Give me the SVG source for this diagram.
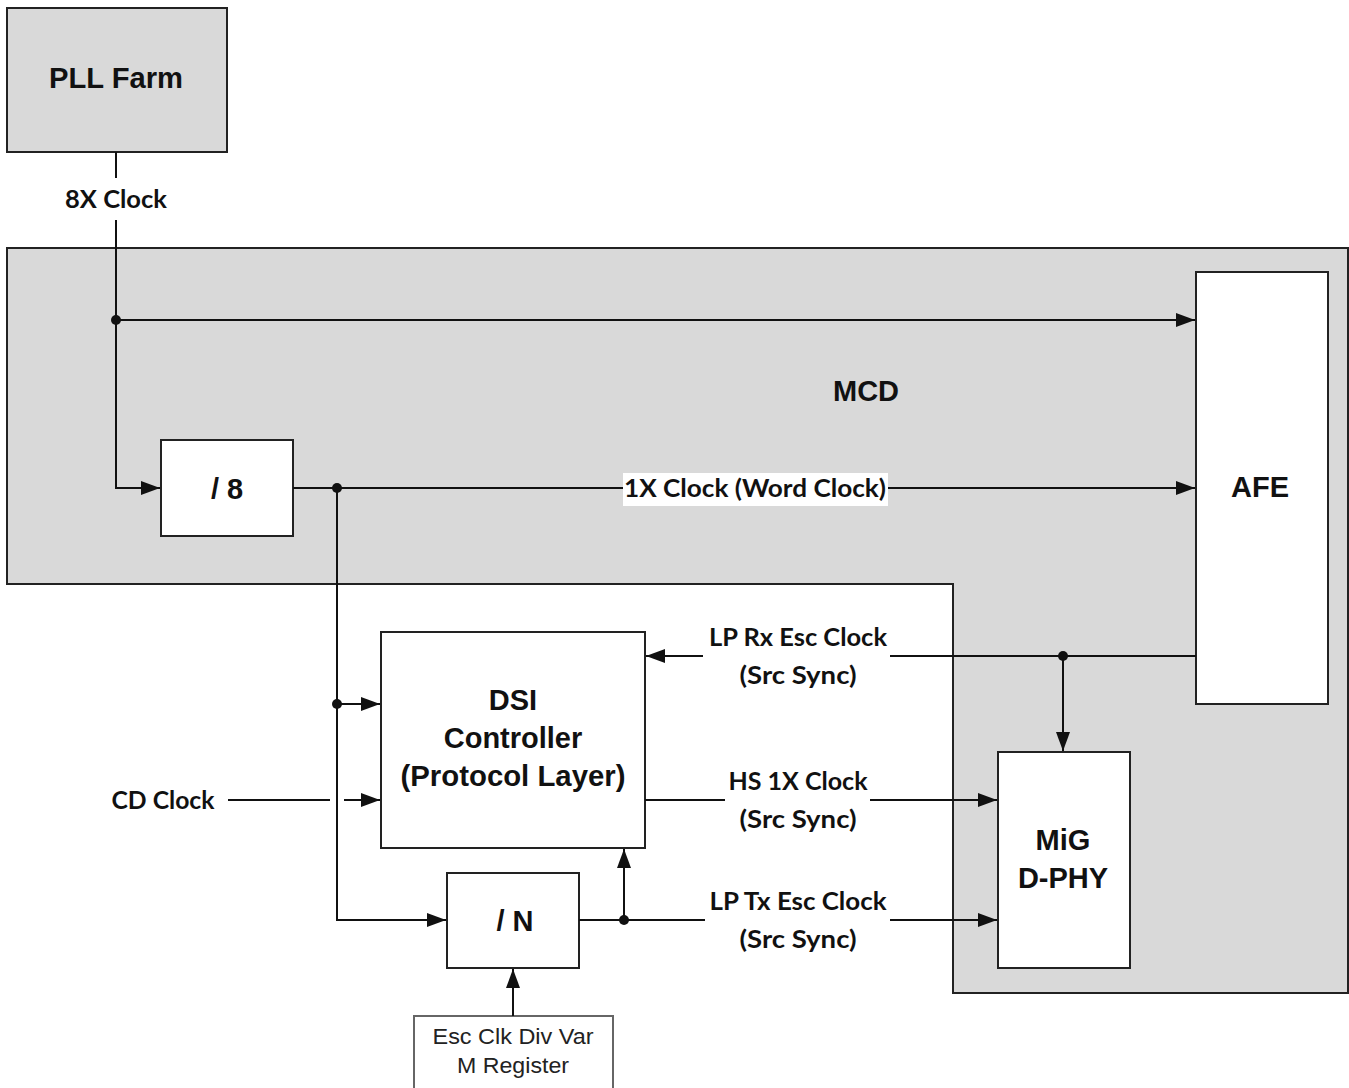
<svg xmlns="http://www.w3.org/2000/svg" width="1349" height="1088" viewBox="0 0 1349 1088">
<defs>
<style>
.box{fill:#fff;stroke:#222;stroke-width:2}
.gbox{fill:#d9d9d9;stroke:#222;stroke-width:2}
.ln{fill:none;stroke:#111;stroke-width:2}
.t{font-family:"Liberation Sans",Arial,sans-serif;font-weight:bold;font-size:29px;fill:#111;text-anchor:middle}
.l{font-family:Lato,"Open Sans",sans-serif;font-weight:bold;font-size:24px;fill:#111;text-anchor:middle}
.r{font-family:"Liberation Sans",Arial,sans-serif;font-size:22px;fill:#222;text-anchor:middle}
</style>
<marker id="a" viewBox="0 0 19 14" refX="19" refY="7" markerWidth="19" markerHeight="14" markerUnits="userSpaceOnUse" orient="auto"><path d="M0,0 L19,7 L0,14 z" fill="#111"/></marker>
</defs>
<rect width="1349" height="1088" fill="#fff"/>
<g id="mcd">
<path class="gbox" d="M7,248 H1348 V993 H953 V584 H7 Z"/>
<text class="t" x="866" y="401">MCD</text>
</g>
<g id="pll">
<rect class="gbox" x="7" y="8" width="220" height="144"/>
<text class="t" x="116" y="88" textLength="134" lengthAdjust="spacingAndGlyphs">PLL Farm</text>
</g>
<g id="div8">
<rect class="box" x="161" y="440" width="132" height="96"/>
<text class="t" x="227" y="499">/ 8</text>
</g>
<g id="afe">
<rect class="box" x="1196" y="272" width="132" height="432"/>
<text class="t" x="1260" y="497">AFE</text>
</g>
<g id="dsi">
<rect class="box" x="381" y="632" width="264" height="216"/>
<text class="t" x="513" y="710">DSI</text>
<text class="t" x="513" y="748">Controller</text>
<text class="t" x="513" y="786" textLength="225" lengthAdjust="spacingAndGlyphs">(Protocol Layer)</text>
</g>
<g id="mig">
<rect class="box" x="998" y="752" width="132" height="216"/>
<text class="t" x="1063" y="850">MiG</text>
<text class="t" x="1063" y="888">D-PHY</text>
</g>
<g id="divn">
<rect class="box" x="447" y="873" width="132" height="95"/>
<text class="t" x="515" y="931">/ N</text>
</g>
<g id="reg">
<rect x="414" y="1016" width="199" height="80" fill="#fff" stroke="#666" stroke-width="2"/>
<text class="r" x="513" y="1044" textLength="161" lengthAdjust="spacingAndGlyphs">Esc Clk Div Var</text>
<text class="r" x="513" y="1073" textLength="112" lengthAdjust="spacingAndGlyphs">M Register</text>
</g>
<g id="connectors">
<path class="ln" d="M116,152 V178"/>
<path class="ln" d="M116,220 V488 H160" marker-end="url(#a)"/>
<path class="ln" d="M116,320 H1195" marker-end="url(#a)"/>
<path class="ln" d="M293,488 H1195" marker-end="url(#a)"/>
<path class="ln" d="M337,488 V920 H446" marker-end="url(#a)"/>
<path class="ln" d="M337,704 H380" marker-end="url(#a)"/>
<path class="ln" d="M228,800 H330"/>
<path class="ln" d="M344,800 H380" marker-end="url(#a)"/>
<path class="ln" d="M1196,656 H890"/>
<path class="ln" d="M703,656 H646" marker-end="url(#a)"/>
<path class="ln" d="M1063,656 V751" marker-end="url(#a)"/>
<path class="ln" d="M645,800 H725"/>
<path class="ln" d="M870,800 H997" marker-end="url(#a)"/>
<path class="ln" d="M579,920 H705"/>
<path class="ln" d="M890,920 H997" marker-end="url(#a)"/>
<path class="ln" d="M624,920 V849" marker-end="url(#a)"/>
<path class="ln" d="M513,1016 V969" marker-end="url(#a)"/>
<circle cx="116" cy="320" r="5" fill="#111"/>
<circle cx="337" cy="488" r="5" fill="#111"/>
<circle cx="337" cy="704" r="5" fill="#111"/>
<circle cx="1063" cy="656" r="5" fill="#111"/>
<circle cx="624" cy="920" r="5" fill="#111"/>
<rect x="623" y="473" width="265" height="33" fill="#fff"/>
<text class="l" x="755" y="497" textLength="262" lengthAdjust="spacingAndGlyphs">1X Clock (Word Clock)</text>
<text class="l" x="116" y="208" textLength="102" lengthAdjust="spacingAndGlyphs">8X Clock</text>
<text class="l" x="163" y="809" textLength="103" lengthAdjust="spacingAndGlyphs">CD Clock</text>
<text class="l" x="798" y="646" textLength="178" lengthAdjust="spacingAndGlyphs">LP Rx Esc Clock</text>
<text class="l" x="798" y="684" textLength="117" lengthAdjust="spacingAndGlyphs">(Src Sync)</text>
<text class="l" x="798" y="790" textLength="139" lengthAdjust="spacingAndGlyphs">HS 1X Clock</text>
<text class="l" x="798" y="828" textLength="117" lengthAdjust="spacingAndGlyphs">(Src Sync)</text>
<text class="l" x="798" y="910" textLength="177" lengthAdjust="spacingAndGlyphs">LP Tx Esc Clock</text>
<text class="l" x="798" y="948" textLength="117" lengthAdjust="spacingAndGlyphs">(Src Sync)</text>
</g>
</svg>
